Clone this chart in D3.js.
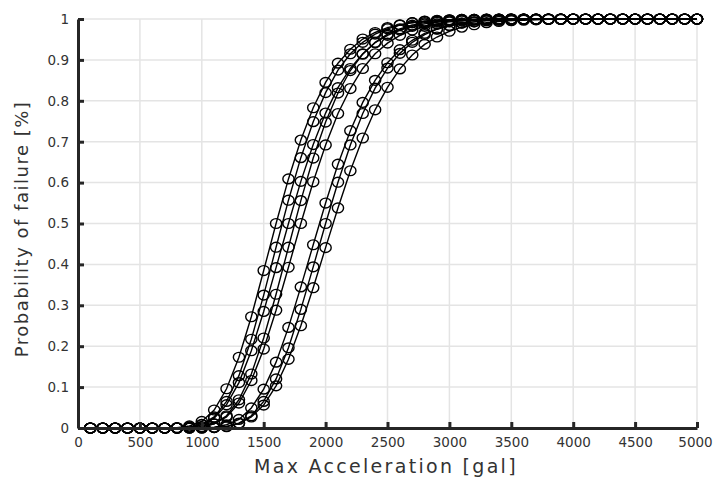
<!DOCTYPE html>
<html>
<head>
<meta charset="utf-8">
<script src="https://cdn.jsdelivr.net/npm/d3@7"></script>
<style>
  body { margin: 0; background: #fff; }
  text { font-family: "DejaVu Sans", sans-serif; }
</style>
</head>
<body>
<div id="chart"></div>
<script>
// Max acceleration (gal) at which each curve is sampled
const accel = [100, 200, 300, 400, 500, 600, 700, 800, 900, 1000,
  1100, 1200, 1300, 1400, 1500, 1600, 1700, 1800, 1900, 2000,
  2100, 2200, 2300, 2400, 2500, 2600, 2700, 2800, 2900, 3000,
  3100, 3200, 3300, 3400, 3500, 3600, 3700, 3800, 3900, 4000,
  4100, 4200, 4300, 4400, 4500, 4600, 4700, 4800, 4900, 5000];

// Probability of failure for each case
const caseA = [0, 0, 0, 0, 0, 0, 0.000, 0.001, 0.005, 0.016,
  0.044, 0.096, 0.173, 0.272, 0.385, 0.500, 0.609, 0.704, 0.783, 0.845,
  0.892, 0.926, 0.951, 0.967, 0.979, 0.986, 0.991, 0.995, 0.997, 0.998,
  0.999, 0.999, 1, 1, 1, 1, 1, 1, 1, 1,
  1, 1, 1, 1, 1, 1, 1, 1, 1, 1];
const caseB = [0, 0, 0, 0, 0, 0, 0, 0.000, 0.002, 0.009,
  0.027, 0.065, 0.128, 0.217, 0.325, 0.442, 0.557, 0.661, 0.749, 0.820,
  0.875, 0.915, 0.943, 0.963, 0.976, 0.985, 0.991, 0.994, 0.996, 0.998,
  0.999, 0.999, 1, 1, 1, 1, 1, 1, 1, 1,
  1, 1, 1, 1, 1, 1, 1, 1, 1, 1];
const caseC = [0, 0, 0, 0, 0, 0, 0, 0.000, 0.002, 0.008,
  0.024, 0.057, 0.111, 0.189, 0.285, 0.392, 0.500, 0.603, 0.693, 0.770,
  0.832, 0.879, 0.915, 0.942, 0.960, 0.973, 0.982, 0.988, 0.992, 0.995,
  0.997, 0.998, 0.999, 0.999, 1, 1, 1, 1, 1, 1,
  1, 1, 1, 1, 1, 1, 1, 1, 1, 1];
const caseD = [0, 0, 0, 0, 0, 0, 0, 0, 0.000, 0.003,
  0.010, 0.030, 0.069, 0.132, 0.220, 0.327, 0.442, 0.556, 0.660, 0.748,
  0.819, 0.874, 0.914, 0.943, 0.963, 0.976, 0.985, 0.991, 0.994, 0.997,
  0.998, 0.999, 0.999, 1, 1, 1, 1, 1, 1, 1,
  1, 1, 1, 1, 1, 1, 1, 1, 1, 1];
const caseE = [0, 0, 0, 0, 0, 0, 0, 0, 0.001, 0.003,
  0.010, 0.027, 0.061, 0.116, 0.193, 0.288, 0.393, 0.500, 0.602, 0.692,
  0.769, 0.830, 0.879, 0.915, 0.941, 0.960, 0.973, 0.982, 0.988, 0.993,
  0.995, 0.997, 0.998, 0.999, 0.999, 1, 1, 1, 1, 1,
  1, 1, 1, 1, 1, 1, 1, 1, 1, 1];
const caseF = [0, 0, 0, 0, 0, 0, 0, 0, 0, 0.000,
  0.002, 0.008, 0.021, 0.049, 0.095, 0.161, 0.246, 0.345, 0.448, 0.550,
  0.645, 0.727, 0.796, 0.850, 0.893, 0.925, 0.948, 0.965, 0.976, 0.984,
  0.990, 0.993, 0.996, 0.997, 0.998, 0.999, 0.999, 1, 1, 1,
  1, 1, 1, 1, 1, 1, 1, 1, 1, 1];
const caseG = [0, 0, 0, 0, 0, 0, 0, 0, 0, 0,
  0.001, 0.004, 0.012, 0.030, 0.065, 0.120, 0.196, 0.290, 0.394, 0.500,
  0.601, 0.692, 0.769, 0.831, 0.880, 0.916, 0.943, 0.962, 0.975, 0.984,
  0.990, 0.993, 0.996, 0.997, 0.998, 0.999, 0.999, 1, 1, 1,
  1, 1, 1, 1, 1, 1, 1, 1, 1, 1];
const caseH = [0, 0, 0, 0, 0, 0, 0, 0, 0, 0,
  0.001, 0.003, 0.011, 0.027, 0.056, 0.103, 0.168, 0.250, 0.343, 0.441,
  0.538, 0.629, 0.709, 0.778, 0.833, 0.878, 0.912, 0.938, 0.956, 0.970,
  0.980, 0.986, 0.991, 0.994, 0.996, 0.997, 0.998, 0.999, 0.999, 1,
  1, 1, 1, 1, 1, 1, 1, 1, 1, 1];

const xTicks = [0, 500, 1000, 1500, 2000, 2500, 3000, 3500, 4000, 4500, 5000];
const yTicks = [0, 0.1, 0.2, 0.3, 0.4, 0.5, 0.6, 0.7, 0.8, 0.9, 1];

const cases = [caseA, caseB, caseC, caseD, caseE, caseF, caseG, caseH];

let margin = { top: 19, right: 16, bottom: 51, left: 78 },
    width = 713 - margin.left - margin.right,
    height = 479 - margin.top - margin.bottom;

let svg = d3.select("#chart")
    .append("svg")
    .attr("width", 713)
    .attr("height", 479);

let g = svg.append("g")
    .attr("transform", "translate(" + margin.left + "," + margin.top + ")");

let x = d3.scaleLinear().domain([0, 5000]).range([0, width]);
let y = d3.scaleLinear().domain([0, 1]).range([height, 0]);

// Grid
g.append("g")
    .selectAll("line")
    .data(xTicks.slice(1))
    .enter()
    .append("line")
    .attr("x1", d => x(d)).attr("x2", d => x(d))
    .attr("y1", 0).attr("y2", height)
    .attr("stroke", "#e4e4e4")
    .attr("stroke-width", 1.5);
g.append("g")
    .selectAll("line")
    .data(yTicks.slice(1))
    .enter()
    .append("line")
    .attr("x1", 0).attr("x2", width)
    .attr("y1", d => y(d)).attr("y2", d => y(d))
    .attr("stroke", "#e4e4e4")
    .attr("stroke-width", 1.5);

// Curves
let line = d3.line()
    .x((d, i) => x(accel[i]))
    .y(d => y(d));

cases.forEach(values => {
    g.append("path")
        .datum(values)
        .attr("d", line)
        .attr("fill", "none")
        .attr("stroke", "#000")
        .attr("stroke-width", 1.4);
});
cases.forEach(values => {
    g.append("g")
        .selectAll("ellipse")
        .data(values)
        .enter()
        .append("ellipse")
        .attr("cx", (d, i) => x(accel[i]))
        .attr("cy", d => y(d))
        .attr("rx", 5.6)
        .attr("ry", 4.9)
        .attr("fill", "none")
        .attr("stroke", "#000")
        .attr("stroke-width", 1.4);
});

// Axes
let xAxis = g.append("g")
    .attr("transform", "translate(0," + height + ")")
    .call(d3.axisBottom(x).tickValues(xTicks).tickSizeInner(-6).tickSizeOuter(0).tickPadding(9)
        .tickFormat(d3.format("d")));
let yAxis = g.append("g")
    .call(d3.axisLeft(y).tickValues(yTicks).tickSizeInner(-6).tickSizeOuter(0).tickPadding(9)
        .tickFormat(d => d3.format("~g")(d)));

[xAxis, yAxis].forEach(ax => {
    ax.select(".domain").attr("stroke", "#262626").attr("stroke-width", 3);
    ax.selectAll(".tick line").attr("stroke", "#262626").attr("stroke-width", 3);
    ax.selectAll(".tick text")
        .attr("fill", "#333")
        .style("font-size", "13.5px")
        .style("font-family", "'DejaVu Sans', sans-serif");
});
// keep the last x label inside the window
xAxis.selectAll(".tick text").filter(d => d === 5000).attr("dx", -2);

// X axis label
svg.append("text")
    .attr("x", 386)
    .attr("y", 473)
    .attr("text-anchor", "middle")
    .attr("fill", "#333")
    .style("font-size", "19px")
    .style("letter-spacing", "2.3px")
    .text("Max Acceleration [gal]");

// Y axis label
svg.append("text")
    .attr("transform", "translate(28,229) rotate(-90)")
    .attr("text-anchor", "middle")
    .attr("fill", "#333")
    .style("font-size", "18px")
    .style("letter-spacing", "1.5px")
    .text("Probability of failure [%]");
</script>
</body>
</html>
